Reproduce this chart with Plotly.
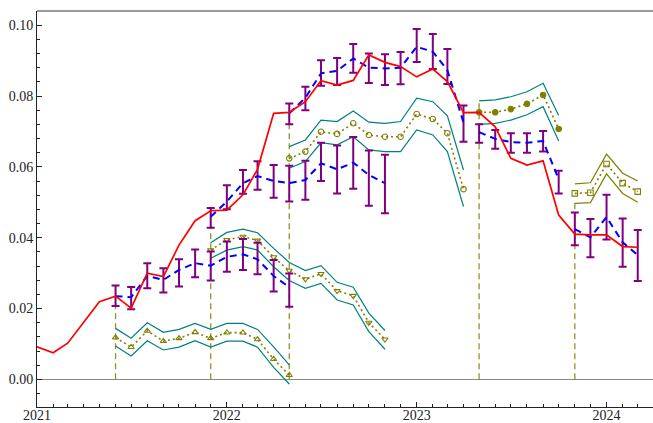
import numpy as np
import pandas as pd
import plotly.graph_objects as go

# ---- observed monthly series (red) -------------------------------------
obs_start = "2021-01-01"
observed = [
    0.0092, 0.0075, 0.0102, 0.0163, 0.0219, 0.0235, 0.0201, 0.0300, 0.0290, 0.0379, 0.0448, 0.0476,
    0.0478, 0.0521, 0.0593, 0.0751, 0.0754, 0.0784, 0.0843, 0.0831, 0.0844, 0.0916, 0.0895, 0.0883,
    0.0854, 0.0876, 0.0841, 0.0753, 0.0754, 0.0713, 0.0624, 0.0605, 0.0617, 0.0464, 0.0410, 0.0408,
    0.0408, 0.0375, 0.0373,
]

# ---- forecast origins ---------------------------------------------------
origins = ["2021-06-01", "2021-12-01", "2022-05-01", "2023-05-01", "2023-11-01"]
origin_line_top = [0.0235, 0.0469, 0.0752, 0.0780, 0.0498]

# ---- forecast A (blue dashed with purple intervals) --------------------
fa_mid = [
    [0.0235, 0.0232, 0.0292, 0.0281, 0.0309, 0.0328, 0.0321, 0.0346, 0.0353, 0.0339, 0.0292, 0.0260],
    [0.0459, 0.0502, 0.0554, 0.0574, 0.0560, 0.0554, 0.0563, 0.0610, 0.0593, 0.0612, 0.0577, 0.0554],
    [0.0751, 0.0795, 0.0864, 0.0871, 0.0906, 0.0880, 0.0878, 0.0880, 0.0939, 0.0925, 0.0873, 0.0725],
    [0.0698, 0.0679, 0.0670, 0.0668, 0.0673, 0.0565],
    [0.0424, 0.0401, 0.0458, 0.0387, 0.0351],
]
fa_hi = [
    [0.0265, 0.0261, 0.0328, 0.0314, 0.0339, 0.0367, 0.0361, 0.0389, 0.0396, 0.0386, 0.0337, 0.0299],
    [0.0484, 0.0548, 0.0591, 0.0616, 0.0605, 0.0603, 0.0617, 0.0668, 0.0660, 0.0684, 0.0646, 0.0634],
    [0.0779, 0.0826, 0.0901, 0.0907, 0.0947, 0.0920, 0.0918, 0.0924, 0.0989, 0.0975, 0.0933, 0.0773],
    [0.0720, 0.0704, 0.0695, 0.0695, 0.0701, 0.0589],
    [0.0471, 0.0453, 0.0521, 0.0454, 0.0422],
]
fa_lo = [
    [0.0207, 0.0198, 0.0257, 0.0245, 0.0262, 0.0288, 0.0279, 0.0304, 0.0309, 0.0297, 0.0248, 0.0205],
    [0.0428, 0.0480, 0.0524, 0.0535, 0.0513, 0.0502, 0.0507, 0.0560, 0.0525, 0.0538, 0.0490, 0.0469],
    [0.0720, 0.0760, 0.0829, 0.0831, 0.0866, 0.0837, 0.0831, 0.0833, 0.0896, 0.0876, 0.0834, 0.0671],
    [0.0668, 0.0651, 0.0640, 0.0640, 0.0643, 0.0525],
    [0.0379, 0.0345, 0.0395, 0.0318, 0.0278],
]

# ---- forecast B (olive dotted with bands) -------------------------------
fb_mid = [
    [0.0118, 0.0091, 0.0137, 0.0108, 0.0116, 0.0133, 0.0116, 0.0132, 0.0132, 0.0113, 0.0057, 0.0012],
    [0.0365, 0.0394, 0.0403, 0.0392, 0.0345, 0.0307, 0.0283, 0.0298, 0.0250, 0.0236, 0.0160, 0.0113],
    [0.0624, 0.0643, 0.0699, 0.0693, 0.0723, 0.0690, 0.0685, 0.0685, 0.0749, 0.0735, 0.0695, 0.0537],
    [0.0754, 0.0754, 0.0763, 0.0778, 0.0803, 0.0707],
    [0.0525, 0.0527, 0.0608, 0.0554, 0.0530],
]
fb_hi = [
    [0.0144, 0.0116, 0.0160, 0.0133, 0.0141, 0.0158, 0.0141, 0.0158, 0.0158, 0.0141, 0.0092, 0.0041],
    [0.0386, 0.0415, 0.0424, 0.0414, 0.0370, 0.0330, 0.0307, 0.0321, 0.0274, 0.0260, 0.0187, 0.0138],
    [0.0657, 0.0676, 0.0732, 0.0728, 0.0758, 0.0726, 0.0723, 0.0728, 0.0794, 0.0784, 0.0744, 0.0591],
    [0.0786, 0.0789, 0.0798, 0.0812, 0.0836, 0.0745],
    [0.0552, 0.0555, 0.0636, 0.0582, 0.0560],
]
fb_lo = [
    [0.0094, 0.0066, 0.0109, 0.0083, 0.0091, 0.0109, 0.0091, 0.0108, 0.0108, 0.0091, 0.0034, -0.0013],
    [0.0342, 0.0365, 0.0375, 0.0365, 0.0318, 0.0279, 0.0257, 0.0271, 0.0224, 0.0210, 0.0135, 0.0085],
    [0.0596, 0.0615, 0.0668, 0.0662, 0.0685, 0.0648, 0.0643, 0.0643, 0.0704, 0.0690, 0.0643, 0.0488],
    [0.0720, 0.0723, 0.0732, 0.0747, 0.0770, 0.0673],
    [0.0497, 0.0499, 0.0580, 0.0525, 0.0500],
]
fb_symbols = ["triangle-up-open", "triangle-down-open", "circle-open", "circle", "square-open"]
fb_band_colors = ["#008080", "#008080", "#008080", "#008080", "#808000"]

RED = "#ff0000"
BLUE = "#0000ff"
PURPLE = "#800080"
OLIVE = "#808000"
FONT = "'Liberation Serif', 'Times New Roman', serif"


def months(start, n):
    return pd.date_range(start, periods=n, freq="MS")


fig = go.Figure()

# vertical markers at each forecast origin
for org, top in zip(origins, origin_line_top):
    fig.add_trace(go.Scatter(
        x=[org, org], y=[0, top], mode="lines",
        line=dict(color=OLIVE, width=1.3, dash="6px,4px"), opacity=0.85,
        hoverinfo="skip", showlegend=False))

# olive forecasts with their bands
for org, mid, hi, lo, sym, bc in zip(origins, fb_mid, fb_hi, fb_lo, fb_symbols, fb_band_colors):
    xs = months(org, len(mid))
    for edge in (hi, lo):
        fig.add_trace(go.Scatter(
            x=xs, y=edge, mode="lines", line=dict(color=bc, width=1.2),
            hoverinfo="skip", showlegend=False))
    fig.add_trace(go.Scatter(
        x=xs, y=mid, mode="lines+markers",
        line=dict(color=OLIVE, width=1.6, dash="2px,3px"),
        marker=dict(symbol=sym, size=5.5, color=OLIVE, line=dict(color=OLIVE, width=1.1)),
        showlegend=False))

# blue forecasts with purple intervals
for org, mid, hi, lo in zip(origins, fa_mid, fa_hi, fa_lo):
    xs = months(org, len(mid))
    mid_a, hi_a, lo_a = np.array(mid), np.array(hi), np.array(lo)
    fig.add_trace(go.Scatter(
        x=xs, y=mid_a, mode="lines",
        line=dict(color=BLUE, width=2, dash="7px,5px"),
        error_y=dict(type="data", symmetric=False, array=hi_a - mid_a,
                     arrayminus=mid_a - lo_a, color=PURPLE, thickness=2, width=4),
        showlegend=False))

# observed series
fig.add_trace(go.Scatter(
    x=months(obs_start, len(observed)), y=observed, mode="lines",
    line=dict(color=RED, width=1.7), showlegend=False))

tick_font = dict(family=FONT, size=14, color="#222")
fig.update_layout(
    width=653, height=423,
    margin=dict(l=37, r=0, t=11, b=16),
    paper_bgcolor="white", plot_bgcolor="white",
    xaxis=dict(
        type="date", range=["2021-01-01", "2024-03-30 08:00"], automargin=False,
        tickmode="linear", tick0="2021-01-01", dtick="M12", tickformat="%Y",
        ticks="inside", ticklen=5, tickwidth=1, tickcolor="#222",
        ticklabelstandoff=-5,
        showline=True, linecolor="#222", linewidth=1,
        showgrid=False, zeroline=False, tickfont=tick_font,
        minor=dict(tick0="2021-01-01", dtick="M1", ticks="inside", ticklen=3,
                   tickcolor="#222", showgrid=False),
    ),
    yaxis=dict(
        range=[-0.0078, 0.1040], tick0=0, dtick=0.02, tickformat=".2f", automargin=False,
        ticks="inside", ticklen=5, tickwidth=1, tickcolor="#222",
        showline=True, linecolor="#222", linewidth=1,
        showgrid=False, zeroline=True, zerolinecolor="#888", zerolinewidth=1,
        tickfont=tick_font,
        minor=dict(tick0=0, dtick=0.004, ticks="inside", ticklen=3,
                   tickcolor="#222", showgrid=False),
    ),
    shapes=[dict(type="line", xref="paper", yref="paper", x0=0, x1=1, y0=1, y1=1,
                 line=dict(color="#777", width=1.5))],
)

fig.write_html("out.html")
